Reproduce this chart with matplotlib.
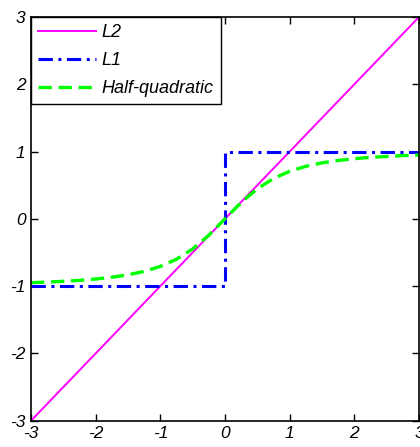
import matplotlib
matplotlib.use("Agg")
import matplotlib.pyplot as plt

# Data
l2_x = [-3, 3]
l2_y = [-3, 3]
l1_x = [-3, 0, 0, 3]
l1_y = [-1, -1, 1, 1]
hq_x = [-3, -2.75, -2.5, -2.25, -2, -1.75, -1.5, -1.25, -1, -0.75, -0.5, -0.25, 0,
        0.25, 0.5, 0.75, 1, 1.25, 1.5, 1.75, 2, 2.25, 2.5, 2.75, 3]
hq_y = [-0.949, -0.940, -0.928, -0.914, -0.894, -0.868, -0.832, -0.781, -0.707, -0.600, -0.447, -0.243, 0.0,
        0.243, 0.447, 0.600, 0.707, 0.781, 0.832, 0.868, 0.894, 0.914, 0.928, 0.940, 0.949]
ticks = [-3, -2, -1, 0, 1, 2, 3]
labels = ["L2", "L1", "Half-quadratic"]

plt.rcParams['font.family'] = ['Liberation Sans', 'DejaVu Sans']
fig = plt.figure(figsize=(4.2, 4.47), dpi=100)
ax = fig.add_axes([31/420, 26.3/447, 388/420, 403.7/447])

ax.plot(l2_x, l2_y, color='#FF00FF', lw=1.4, label=labels[0])
ax.plot(l1_x, l1_y, color='#0000FF', lw=2.2, linestyle=(0, (4.7, 1.8, 1, 1.8)), label=labels[1])
ax.plot(hq_x, hq_y, color='#00FF00', lw=2.4, linestyle=(0, (4, 2)), label=labels[2])

ax.set_xlim(-3, 3)
ax.set_ylim(-3, 3)
ax.set_xticks(ticks)
ax.set_yticks(ticks)
ax.set_xticklabels([str(t) for t in ticks], fontstyle='italic', fontsize=12.5)
ax.set_yticklabels([str(t) for t in ticks], fontstyle='italic', fontsize=12.5)
ax.tick_params(direction='in', length=5, width=1, top=True, right=True, pad=4)
for s in ax.spines.values():
    s.set_linewidth(1.2)

leg = ax.legend(loc='upper left', borderaxespad=0, fancybox=False, edgecolor='black',
                framealpha=1, handlelength=3.2, handletextpad=0.3, labelspacing=0.6,
                prop={'style': 'italic', 'size': 13}, borderpad=0.4)
leg.get_frame().set_linewidth(1.0)

fig.savefig("out.png", dpi=100)
